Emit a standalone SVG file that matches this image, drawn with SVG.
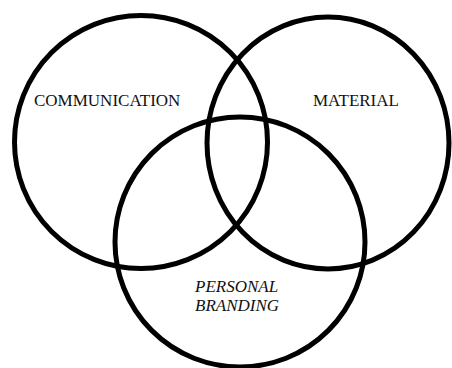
<svg xmlns="http://www.w3.org/2000/svg" width="452" height="368" viewBox="0 0 452 368">
  <style>
    .set { fill: none; stroke: #000; stroke-width: 5; }
    .label { font-family: "Liberation Serif", "Times New Roman", serif; font-size: 17px; fill: #111; }
    .it { font-style: italic; }
  </style>
  <rect width="452" height="368" fill="#fff"/>
  <g id="communication">
    <circle class="set" cx="141" cy="142" r="126.5"/>
    <text class="label" x="34" y="106">COMMUNICATION</text>
  </g>
  <g id="material">
    <ellipse class="set" cx="328" cy="143" rx="121" ry="126"/>
    <text class="label" x="313" y="106">MATERIAL</text>
  </g>
  <g id="personal-branding">
    <circle class="set" cx="240" cy="242" r="125"/>
    <text class="label it" x="195" y="292">PERSONAL</text>
    <text class="label it" x="195" y="311">BRANDING</text>
  </g>
  <g id="connectors"/>
</svg>
